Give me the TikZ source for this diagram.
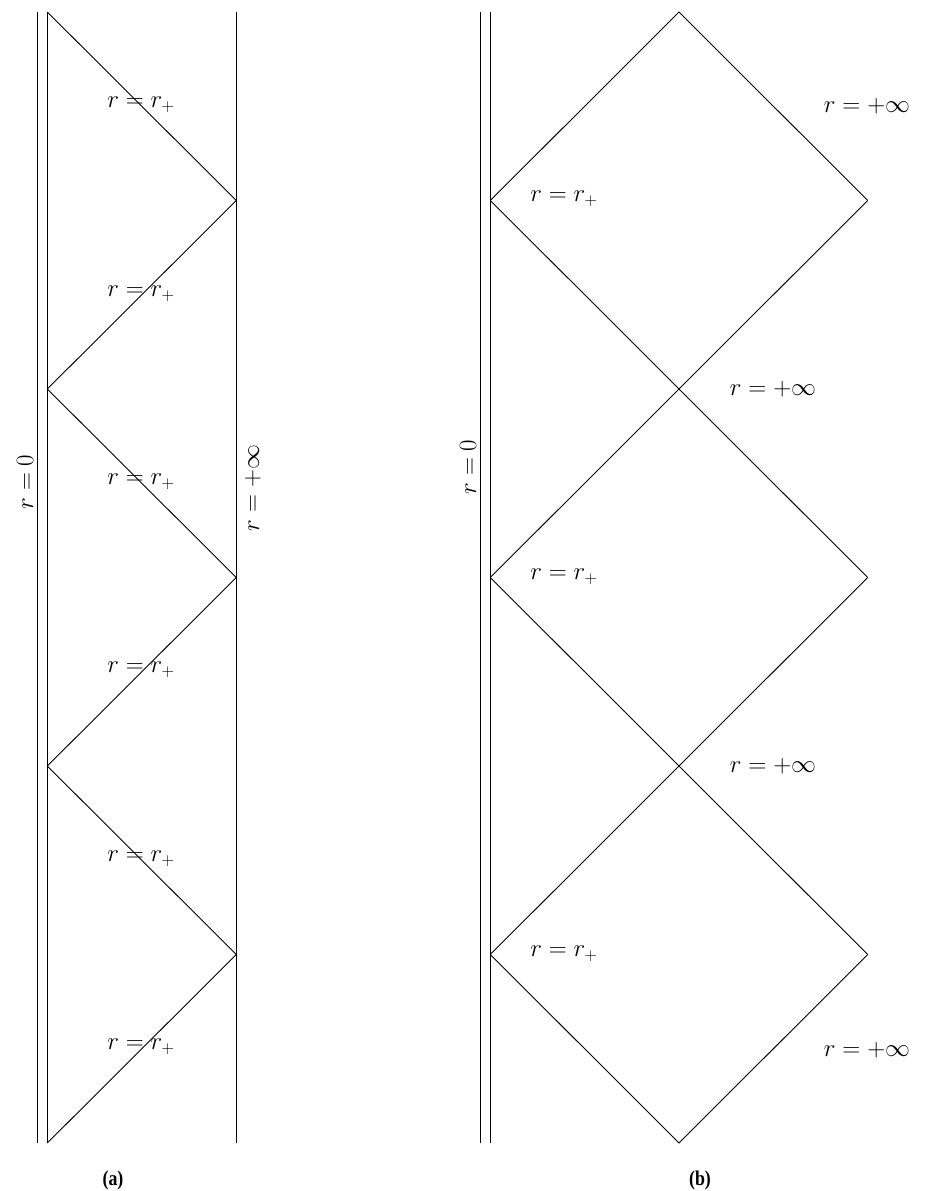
\documentclass[tikz,border=0pt]{standalone}
\usepackage{fontspec}
\newfontfamily\capfont{Liberation Serif}
\begin{document}
\begin{tikzpicture}[x=1pt,y=-1pt,line width=0.9pt,
  lbl/.style={font=\fontsize{25.3}{30}\selectfont,inner sep=0pt},
  captxt/.style={font=\capfont\bfseries\fontsize{21}{25}\selectfont,inner sep=0pt,xscale=0.85}]
\useasboundingbox (0,0) rectangle (925,1191);
% ---------- panel (a) ----------
\coordinate (aL1t) at (37.7,12);  \coordinate (aL1b) at (37.7,1143);
\coordinate (aL2t) at (47.3,12);  \coordinate (aL2b) at (47.3,1143);
\coordinate (aRt) at (236.3,12);  \coordinate (aRb) at (236.3,1143);
\draw (aL1t) -- (aL1b);
\draw (aL2t) -- (aL2b);
\draw (aRt) -- (aRb);
\coordinate (z0) at (47.3,12);
\coordinate (z1) at (236.3,200.5);
\coordinate (z2) at (47.3,389);
\coordinate (z3) at (236.3,577.5);
\coordinate (z4) at (47.3,766);
\coordinate (z5) at (236.3,954.5);
\coordinate (z6) at (47.3,1143);
\draw (z0) -- (z1) -- (z2) -- (z3) -- (z4) -- (z5) -- (z6);
\foreach \y [count=\i] in {105,294,482,670,859,1047}
  \node[lbl] (ar\i) at (141,\y) {$r=r_+$};
\node[lbl,rotate=90] (ar0) at (25,482) {$r=0$};
\node[lbl,rotate=90] (arinf) at (253,488) {$r=+\infty$};
\node[captxt] (capa) at (113,1180) {(a)};
% ---------- panel (b) ----------
\coordinate (bL1t) at (480.7,12); \coordinate (bL1b) at (480.7,1143);
\coordinate (bL2t) at (490.3,12); \coordinate (bL2b) at (490.3,1143);
\draw (bL1t) -- (bL1b);
\draw (bL2t) -- (bL2b);
\coordinate (top) at (679,12);
\coordinate (l1) at (490.3,200.5);  \coordinate (r1) at (867.7,200.5);
\coordinate (l2) at (490.3,577.5);  \coordinate (r2) at (867.7,577.5);
\coordinate (l3) at (490.3,954.5);  \coordinate (r3) at (867.7,954.5);
\coordinate (bot) at (679,1143);
\draw (l1) -- (top) -- (r1);
\draw (l1) -- (r2);
\draw (r1) -- (l2);
\draw (l2) -- (r3);
\draw (r2) -- (l3);
\draw (l3) -- (bot) -- (r3);
\node[lbl] (br1) at (564,199) {$r=r_+$};
\node[lbl] (br2) at (564,577) {$r=r_+$};
\node[lbl] (br3) at (564,954) {$r=r_+$};
\node[lbl] (bi1) at (867,106) {$r=+\infty$};
\node[lbl] (bi2) at (773,389) {$r=+\infty$};
\node[lbl] (bi3) at (773,766) {$r=+\infty$};
\node[lbl] (bi4) at (867,1050) {$r=+\infty$};
\node[lbl,rotate=90] (br0) at (468,467) {$r=0$};
\node[captxt] (capb) at (700,1180) {(b)};
\end{tikzpicture}
\end{document}
